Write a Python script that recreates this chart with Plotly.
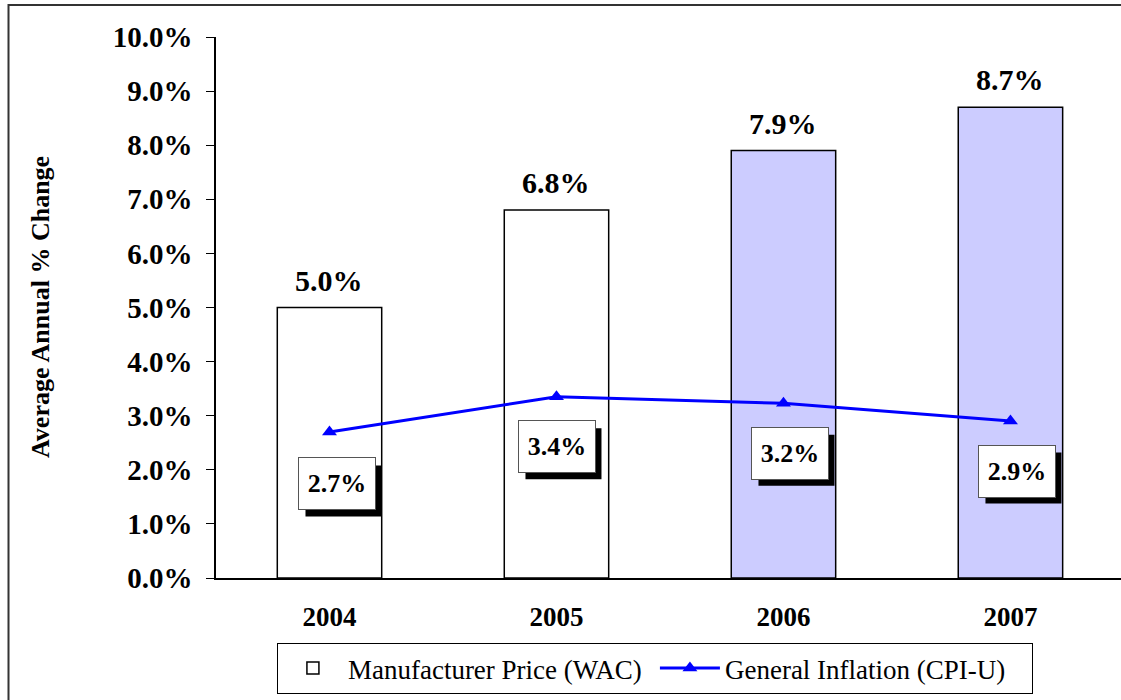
import plotly.graph_objects as go

years = ["2004", "2005", "2006", "2007"]
wac_values = [5.0, 6.8, 7.9, 8.7]
cpi_values = [2.7, 3.35, 3.23, 2.9]
wac_labels = ["5.0%", "6.8%", "7.9%", "8.7%"]
cpi_labels = ["2.7%", "3.4%", "3.2%", "2.9%"]
y_tickvals = [0, 1, 2, 3, 4, 5, 6, 7, 8, 9, 10]
y_ticktext = ["0.0%", "1.0%", "2.0%", "3.0%", "4.0%", "5.0%", "6.0%", "7.0%", "8.0%", "9.0%", "10.0%"]
bar_fills = ["white", "white", "#CCCCFF", "#CCCCFF"]

FONT = "Liberation Serif, Times New Roman, serif"

fig = go.Figure()
fig.add_trace(go.Bar(
    x=years, y=wac_values, name="Manufacturer Price (WAC)",
    marker=dict(color=bar_fills, line=dict(color="black", width=1.5)),
    width=0.46,
))
fig.add_trace(go.Scatter(
    x=years, y=cpi_values, name="General Inflation (CPI-U)",
    mode="lines+markers",
    line=dict(color="#0000FF", width=3),
    marker=dict(symbol="triangle-up", size=13, color="#0000FF"),
))

annotations = []
shapes = []
for i, (v, lab) in enumerate(zip(wac_values, wac_labels)):
    annotations.append(dict(x=i, y=v, xref="x", yref="y", text="<b>%s</b>" % lab,
                            showarrow=False, yanchor="bottom", yshift=9,
                            font=dict(family=FONT, size=30, color="black")))
shifts = [(8, -52), (1, -50), (7, -50), (7, -50)]
BW, BH = 76, 51
for i, (v, lab, (dx, dy)) in enumerate(zip(cpi_values, cpi_labels, shifts)):
    # drop shadow (pixel-sized rectangle anchored to the data point)
    shapes.append(dict(type="rect", xref="x", yref="y", xsizemode="pixel", ysizemode="pixel",
                       xanchor=i, yanchor=v,
                       x0=dx - BW / 2 + 6, x1=dx + BW / 2 + 6,
                       y0=dy - BH / 2 - 7, y1=dy + BH / 2 - 7,
                       fillcolor="black", line=dict(width=0), layer="above"))
    annotations.append(dict(x=i, y=v, xref="x", yref="y", text="<b>%s</b>" % lab,
                            showarrow=False, xshift=dx, yshift=dy,
                            width=BW - 2, height=BH - 2, bgcolor="white",
                            bordercolor="#555555", borderwidth=1,
                            font=dict(family=FONT, size=26, color="black")))
annotations.append(dict(x=(24 - 216) / 905, y=0.5, xref="paper", yref="paper",
                        text="<b>Average Annual % Change</b>", textangle=-90,
                        showarrow=False, font=dict(family=FONT, size=26, color="black")))

shapes.append(dict(type="rect", xref="paper", yref="paper",
                   x0=(8.5 - 216) / 905, x1=1.3, y0=-0.6, y1=(578 - 5) / 541,
                   line=dict(color="#333333", width=2), layer="above"))

fig.update_layout(
    width=1121, height=700,
    margin=dict(l=216, r=0, t=37, b=122, pad=0),
    paper_bgcolor="white", plot_bgcolor="white",
    font=dict(family=FONT, color="black"),
    showlegend=True,
    legend=dict(orientation="h", x=0.485, xanchor="center", y=-0.12, yanchor="top",
                bordercolor="black", borderwidth=1, bgcolor="white",
                font=dict(family=FONT, size=27, color="black"),
                entrywidth=302, itemwidth=60),
    annotations=annotations,
    shapes=shapes,
    xaxis=dict(type="category", range=[-0.5, 3.487], showline=True, linecolor="black", linewidth=1.5,
               ticks="", showgrid=False, ticklabelstandoff=14,
               tickfont=dict(family=FONT, size=27, color="black"),
               tickprefix="<b>", ticksuffix="</b>"),
    yaxis=dict(range=[0, 10], tickvals=y_tickvals, ticktext=["<b>%s</b>" % t for t in y_ticktext],
               showline=True, linecolor="black", linewidth=1.5, showgrid=False, zeroline=False,
               ticks="outside", ticklen=8, tickcolor="black", tickwidth=1,
               ticklabelstandoff=8,
               tickfont=dict(family=FONT, size=29, color="black")),
    bargap=0.54,
)

fig.write_html("out.html", config={"displayModeBar": False},
               post_script="document.body.style.margin='0';document.body.style.overflow='hidden';")
